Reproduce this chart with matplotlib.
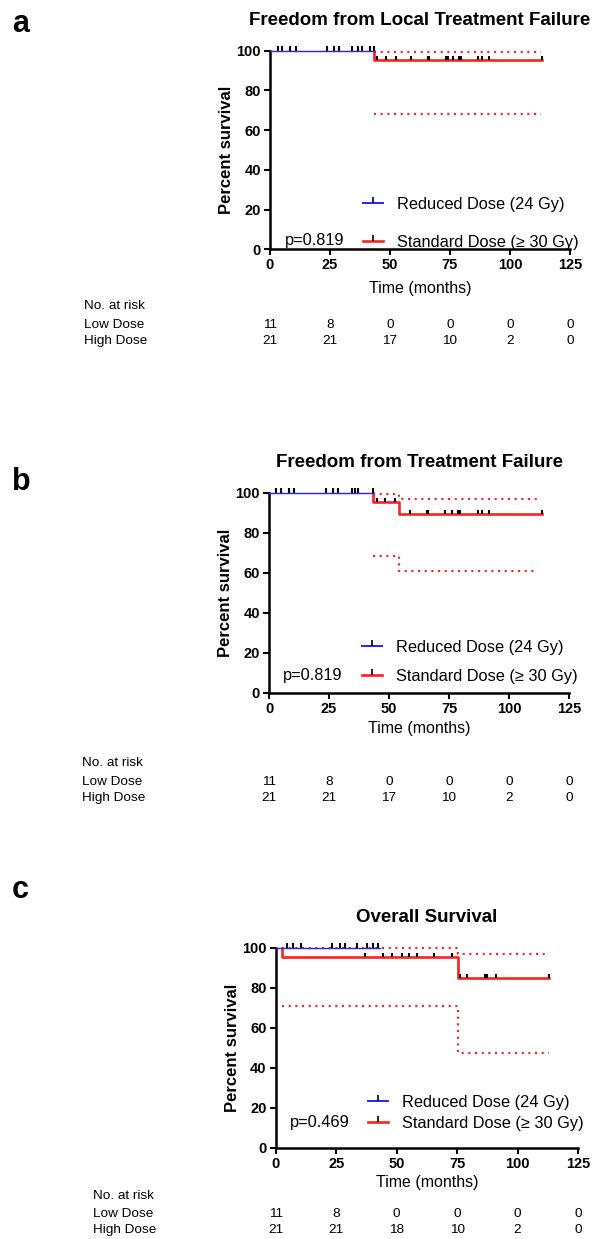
import numpy as np
import matplotlib
matplotlib.use("Agg")
import matplotlib.pyplot as plt
import matplotlib.transforms as mtransforms
from matplotlib.lines import Line2D

plt.rcParams['font.family'] = ['Liberation Sans', 'DejaVu Sans']

W, H = 596, 1239

# ---- data (months / percent) ----
titles = ["Freedom from Local Treatment Failure",
          "Freedom from Treatment Failure",
          "Overall Survival"]
letters = ["a", "b", "c"]
p_values = ["p=0.819", "p=0.819", "p=0.469"]
labels = ["Reduced Dose (24 Gy)", "Standard Dose (\u2265 30 Gy)"]

# reduced dose: no events, only censored patients
low_end = [43.3, 43.2, 43.1]
low_cens = [
    [3.2, 4.9, 8.5, 10.7, 23.8, 26.8, 28.8, 34.3, 36.8, 38.5, 41.7, 43.3],
    [2.8, 4.9, 8.2, 10.6, 23.8, 26.8, 28.9, 34.4, 35.8, 36.9, 43.2],
    [4.8, 7.3, 10.3, 23.2, 26.6, 28.7, 33.5, 37.6, 40.1, 42.4],
]

# standard dose KM steps
high_t = [
    [0, 43.2, 113.2],
    [0, 43.2, 54.3, 113.6],
    [0, 2.5, 75.5, 113.0],
]
high_s = [
    [100, 95.2, 95.2],
    [100, 95.2, 89.3, 89.3],
    [100, 95.2, 84.7, 84.7],
]
high_cens = [
    [44.4, 48.3, 52.4, 58.8, 66.0, 66.3, 73.3, 74.3, 76.1, 78.9, 79.4, 86.8, 88.5, 91.3, 113.2],
    [44.9, 48.3, 52.5, 58.8, 65.7, 66.4, 73.3, 76.1, 78.9, 79.6, 87.2, 88.6, 91.7, 113.6],
    [36.9, 44.5, 48.0, 52.1, 55.3, 58.3, 65.6, 73.0, 76.2, 79.0, 86.6, 87.5, 91.0, 113.0],
]
# 95% CI of standard dose
ci_t = [
    [43.2, 113.0],
    [43.2, 54.3, 112.2],
    [2.5, 75.5, 113.0],
]
ci_upper = [
    [99.3, 99.3],
    [99.3, 96.9, 96.9],
    [99.7, 96.7, 96.7],
]
ci_lower = [
    [68.0, 68.0],
    [68.3, 60.8, 60.8],
    [70.8, 47.5, 47.5],
]

risk_times = [0, 25, 50, 75, 100, 125]
risk_low = [11, 8, 0, 0, 0, 0]
risk_high = [
    [21, 21, 17, 10, 2, 0],
    [21, 21, 17, 10, 2, 0],
    [21, 21, 18, 10, 2, 0],
]

# ---- layout (pixels) ----
boxes = [(270, 50.5, 570, 249.3), (269, 492.7, 569, 692.7), (275.7, 947.7, 578, 1147.7)]
letter_pos = [(12, 31.7), (12, 490), (12, 898)]
time_y = [289, 728, 1182]
table_y = [(306, 325, 341), (763, 782, 798), (1196, 1214, 1230)]
table_x = [84, 82, 93]
p_pos = [(6.2, 4.2), (5.8, 8.7), (5.9, 12.8)]
leg_x = [0.31, 0.309, 0.305]
leg_spacing = [1.4, 0.85, 0.35]

BLUE = '#2424ff'
RED = '#ff1f1f'


def step_value(t, s, x):
    i = np.searchsorted(t, x, side='right') - 1
    return np.asarray(s, dtype=float)[i]


fig = plt.figure(figsize=(W / 100, H / 100), dpi=100)

for k in range(3):
    x0, y0, x1, y1 = boxes[k]
    ax = fig.add_axes([x0 / W, 1 - y1 / H, (x1 - x0) / W, (y1 - y0) / H])

    # standard dose: the part at 100 lies under the reduced-dose curve, start at first drop
    t = np.array(high_t[k], dtype=float)
    s = np.array(high_s[k], dtype=float)
    i0 = max(i for i, v in enumerate(s) if v >= 100) + 1
    xs = np.concatenate([[t[i0]], t[i0:]])
    ys = np.concatenate([[100.0], s[i0:]])
    ax.step(xs, ys, where='post', color=RED, lw=1.9, clip_on=False, zorder=3)
    ax.step(ci_t[k], ci_upper[k], where='post', color=RED, lw=1.5,
            ls=(0, (1, 2.2)), clip_on=False, zorder=2)
    ax.step(ci_t[k], ci_lower[k], where='post', color=RED, lw=1.5,
            ls=(0, (1, 2.2)), clip_on=False, zorder=2)
    hc = np.array(high_cens[k])
    hs = step_value(t, s, hc)
    ax.vlines(hc, hs, hs + 2.2, colors='k', lw=1.5, clip_on=False, zorder=5)

    # reduced dose
    ax.step([0, low_end[k]], [100, 100], where='post', color=BLUE, lw=1.0,
            clip_on=False, zorder=4)
    lc = np.array(low_cens[k])
    ax.vlines(lc, 100, 102.2, colors='k', lw=1.5, clip_on=False, zorder=5)

    ax.set_xlim(0, 125)
    ax.set_ylim(0, 100)
    ax.set_xticks(risk_times)
    ax.set_yticks([0, 20, 40, 60, 80, 100])
    for side in ['top', 'right']:
        ax.spines[side].set_visible(False)
    for side in ['left', 'bottom']:
        ax.spines[side].set_linewidth(1.8)
    ax.tick_params(width=1.5, length=4, labelsize=10.5, pad=2.5)
    for lab in ax.get_xticklabels() + ax.get_yticklabels():
        lab.set_fontweight('bold')

    ax.set_title(titles[k], fontsize=13.5, fontweight='bold', pad=18.7)
    ax.set_ylabel("Percent survival", fontsize=12, fontweight='bold')
    ax.yaxis.set_label_coords(-36 / (x1 - x0), 0.5)
    ax.set_xlabel("Time (months)", fontsize=11.5, va='center')
    ax.xaxis.set_label_coords(0.5, (y1 - time_y[k]) / (y1 - y0))

    handles = [Line2D([], [], color=BLUE, lw=1.4, marker=2, ms=4, mec='k', mew=1.2),
               Line2D([], [], color=RED, lw=1.9, marker=2, ms=4, mec='k', mew=1.2)]
    ax.legend(handles, labels, loc='upper left', bbox_to_anchor=(leg_x[k], 0.264),
              frameon=False, fontsize=11.8, borderpad=0, borderaxespad=0,
              handlelength=1.22, handletextpad=0.85, labelspacing=leg_spacing[k],
              numpoints=1)
    ax.text(p_pos[k][0], p_pos[k][1], p_values[k], fontsize=11.8, va='center', ha='left')

    fig.text(letter_pos[k][0] / W, 1 - letter_pos[k][1] / H, letters[k],
             fontsize=22, fontweight='bold', va='baseline', ha='left')

    # number at risk table
    ty = table_y[k]
    fig.text(table_x[k] / W, 1 - ty[0] / H, "No. at risk", fontsize=9.7, va='center')
    fig.text(table_x[k] / W, 1 - ty[1] / H, "Low Dose", fontsize=9.7, va='center')
    fig.text(table_x[k] / W, 1 - ty[2] / H, "High Dose", fontsize=9.7, va='center')
    tr = mtransforms.blended_transform_factory(ax.transData, fig.transFigure)
    for xt, nl, nh in zip(risk_times, risk_low, risk_high[k]):
        ax.text(xt, 1 - ty[1] / H, str(nl), transform=tr, fontsize=9.7,
                ha='center', va='center', clip_on=False)
        ax.text(xt, 1 - ty[2] / H, str(nh), transform=tr, fontsize=9.7,
                ha='center', va='center', clip_on=False)

fig.savefig("out.png", dpi=100)
